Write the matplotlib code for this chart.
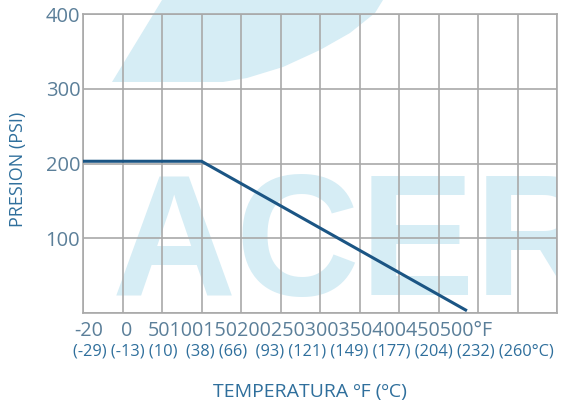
import matplotlib
matplotlib.use("Agg")
import matplotlib.pyplot as plt
from matplotlib.patches import Polygon

# ---- data ----
grid_cols = 12                       # vertical grid columns
f_labels = ["-20", "0", "50", "100", "150", "200", "250", "300", "350", "400", "450", "500°F"]
c_labels = ["(-29)", "(-13)", "(10)", "", "(38)", "(66)", "", "(93)", "(121)", "(149)", "(177)", "(204)", "(232)", "(260°C)"]
y_ticks = [100, 200, 300, 400]
curve_x = [0, 3, 9.72]               # position in grid columns
curve_p = [203, 203, 3]              # pressure (PSI)

W, H = 561, 403
fig = plt.figure(figsize=(W / 100, H / 100), dpi=100)

FONT = "Open Sans"
tick_col = "#5b7f99"
lab_col = "#2f6f9c"
line_col = "#1b5584"
grid_col = "#a9a9a9"
wm_col = "#d6edf5"

def px(x, y):
    return (x / W, 1 - y / H)

# watermark swoosh (decoration, figure pixels)
swoosh = [(112, 82), (162, 0), (383, 0), (375, 13), (350, 33), (320, 50),
          (283, 67), (247, 78), (223, 82)]
fig.patches.append(Polygon([px(*p) for p in swoosh], closed=True, transform=fig.transFigure,
                           facecolor=wm_col, edgecolor="none", zorder=-5))

ax = fig.add_axes([83 / W, (H - 313) / H, (557 - 83) / W, (313 - 14) / H])
ax.patch.set_alpha(0)
ax.set_xlim(0, grid_cols)
ax.set_ylim(0, 400)

# watermark text
ax.text(112 / W, 1 - 295 / H, "ACER", transform=fig.transFigure, fontsize=124, fontweight="bold",
        family="Liberation Sans", color=wm_col, zorder=0, clip_on=True, ha="left", va="baseline")

ax.set_xticks(range(grid_cols + 1))
ax.set_yticks([0] + y_ticks)
ax.grid(True, color=grid_col, lw=1.2, zorder=1)
ax.tick_params(axis="x", length=0, labelbottom=False)
ax.tick_params(axis="y", length=0, pad=2, labelsize=14.5, labelcolor=tick_col)
ax.set_yticklabels([""] + [str(v) for v in y_ticks], family=FONT)
for s in ax.spines.values():
    s.set_color(grid_col)
    s.set_linewidth(1.2)

ax.plot(curve_x, curve_p, color=line_col, lw=2.2, zorder=3, solid_capstyle="butt")

# Fahrenheit labels
fs_f = 14.2
fig.text(*px(89, 331), f_labels[0], ha="center", va="center", family=FONT, fontsize=fs_f, color=tick_col)
fig.text(*px(127, 331), f_labels[1], ha="center", va="center", family=FONT, fontsize=fs_f, color=tick_col)
fig.text(*px(148, 331), "".join(f_labels[2:]), ha="left", va="center", family=FONT, fontsize=fs_f, color=tick_col)

# Celsius labels
fig.text(*px(73, 351), " ".join(c_labels), ha="left", va="center", family=FONT, fontsize=11.8, color=lab_col)

fig.text(*px(18, 169), "PRESION (PSI)", rotation=90, ha="center", va="center", family=FONT,
         fontsize=13, color=lab_col)
fig.text(*px(310, 392), "TEMPERATURA ºF (ºC)", ha="center", va="center", family=FONT,
         fontsize=14, color=lab_col)

fig.savefig("out.png", dpi=100)
